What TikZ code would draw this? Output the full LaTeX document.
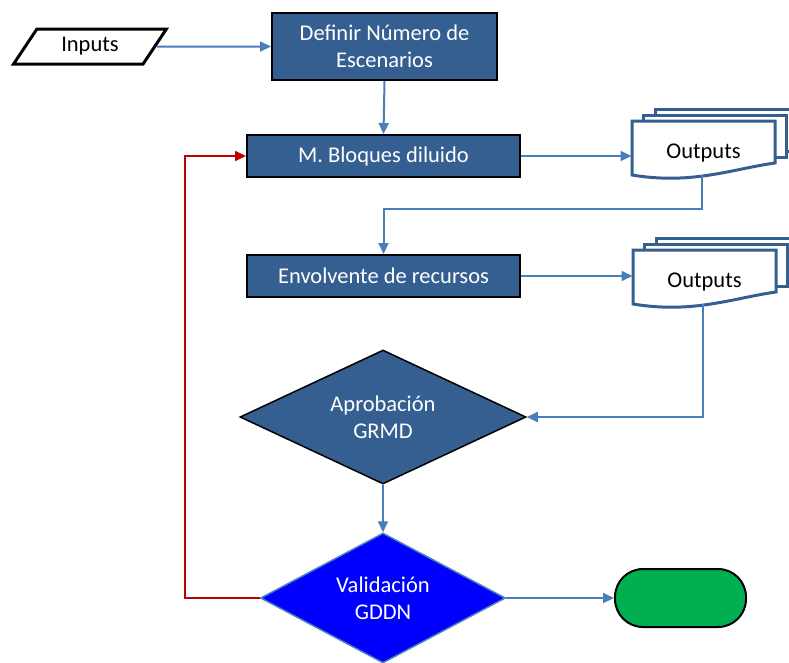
\documentclass[tikz,border=0pt]{standalone}
\usepackage{fontspec}
\setmainfont{Carlito}
\usetikzlibrary{arrows.meta,shapes.geometric}

\definecolor{boxblue}{HTML}{365F91}
\definecolor{linkblue}{HTML}{4A7EBB}
\definecolor{edgeblue}{HTML}{4F81BD}
\definecolor{loopred}{HTML}{C00000}
\definecolor{endgreen}{HTML}{00B050}

\tikzset{
  txt/.style={font=\fontsize{22.5}{27}\selectfont},
  procbox/.style={txt, draw=black, line width=2pt, fill=boxblue, text=white,
    align=center, inner sep=0pt},
  conn/.style={draw=linkblue, line width=2pt, -{Triangle[length=11pt,width=10pt]}},
  backconn/.style={draw=loopred, line width=2pt, -{Triangle[length=11pt,width=10pt]}},
  docline/.style={draw=boxblue, line width=3pt, fill=white, line join=miter}
}

% stack of three document sheets, text node #1 centred at (#2,#3);
% coordinate #1-w on the left edge, #1-b on the wavy lower edge of the front sheet
\newcommand\docstack[3]{%
  \begin{scope}[shift={(#2,#3)}]
    \path[docline] (-48.5,-43) -- (94.5,-43) -- (94.5,-1) -- (-48.5,-1) -- cycle;
    \path[docline] (-60.5,-37) -- (82.5,-37) -- (82.5,5) -- (-60.5,5) -- cycle;
    \path[docline] (-71.5,-31) -- (71.5,-31) -- (71.5,11)
      .. controls (28.5,17) and (-11.5,33) .. (-71.5,23) -- cycle;
    \node[txt, inner sep=0pt] (#1) at (0,1) {Outputs};
    \coordinate (#1-w) at (-72,0);
    \coordinate (#1-b) at (-2,23);
  \end{scope}}

\begin{document}
\begin{tikzpicture}[x=1pt,y=-1pt]
  \useasboundingbox (0,0) rectangle (789,662);

  % input sheet
  \node[txt, trapezium, trapezium left angle=55, trapezium right angle=125,
        trapezium stretches=true, draw=black, line width=3pt,
        minimum width=154pt, minimum height=35pt, inner sep=0pt]
        (inp) at (90,46.5) {Inputs};

  % process boxes
  \node[procbox, minimum width=225pt, minimum height=67pt]
        (b1) at (384.5,46.5) {Definir Número de\\Escenarios};
  \node[procbox, minimum width=273pt, minimum height=42pt]
        (b2) at (383.5,156) {M. Bloques diluido};
  \node[procbox, minimum width=273pt, minimum height=42pt]
        (b3) at (383.5,276) {Envolvente de recursos};

  % output sheets
  \docstack{o1}{703.5}{152}
  \docstack{o2}{704.5}{281}

  % decisions
  \node[txt, diamond, draw=black, line width=1.5pt, fill=boxblue, text=white,
        align=center, inner sep=0pt, aspect=2.1,
        minimum width=286pt, minimum height=134pt]
        (d1) at (383,417) {Aprobación\\GRMD};
  \node[txt, diamond, draw=edgeblue, line width=1.5pt, fill=blue, text=white,
        align=center, inner sep=0pt, aspect=1.9,
        minimum width=245pt, minimum height=130pt]
        (v2) at (383,598) {Validación\\GDDN};

  % terminator
  \node[draw=black, line width=2pt, fill=endgreen, rounded corners=28pt,
        minimum width=131pt, minimum height=58pt, inner sep=0pt]
        (term) at (680.5,598) {};

  % connectors
  \draw[conn] (inp.east) -- (b1.west);
  \draw[conn] (b1.south) -- (b2.north);
  \draw[conn] (b2.east) -- (b2.east -| o1-w);
  \coordinate (j1) at (560,209);
  \draw[conn] (o1-b) |- (j1) -| (b3.north);
  \draw[conn] (b3.east) -- (b3.east -| o2-w);
  \draw[conn] (o2-b) |- (d1.east);
  \draw[conn] (d1.south) -- (v2.north);
  \draw[conn] (v2.east) -- (term.west);
  \coordinate (rc) at (185,598);
  \draw[backconn] (v2.west) -- (rc) |- (b2.west);
\end{tikzpicture}
\end{document}
